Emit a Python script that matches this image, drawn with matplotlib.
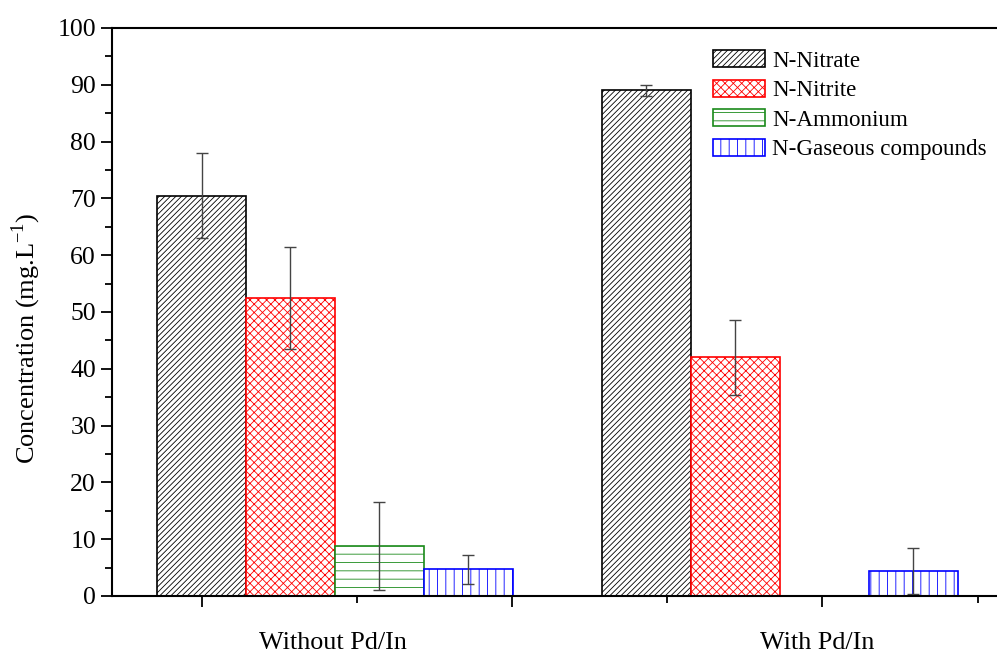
import numpy as np
import matplotlib.pyplot as plt

plt.rcParams['font.family'] = ['Liberation Serif', 'DejaVu Serif']
plt.rcParams['mathtext.fontset'] = 'custom'
plt.rcParams['mathtext.rm'] = 'Liberation Serif'
plt.rcParams['hatch.linewidth'] = 0.6

groups = ['Without Pd/In', 'With Pd/In']
species = ['N-Nitrate', 'N-Nitrite', 'N-Ammonium', 'N-Gaseous compounds']
nitrate = [70.5, 89.0]
nitrate_err = [7.5, 0.9]
nitrite = [52.5, 42.0]
nitrite_err = [9.0, 6.6]
ammonium = [8.8, 0.0]
ammonium_err = [7.7, np.nan]
gaseous = [4.7, 4.4]
gaseous_err = [2.6, 4.0]

values = [nitrate, nitrite, ammonium, gaseous]
errors = [nitrate_err, nitrite_err, ammonium_err, gaseous_err]
edges = ['black', '#ff0000', '#1a8a1a', '#0000ff']
hatches = ['//////', 'xxxx', '--', '||']

fig = plt.figure(figsize=(9.97, 6.57), dpi=100)
ax = fig.add_axes([112 / 997, 61 / 657, 885 / 997, 568 / 657])

group_start = np.array([0.0, 5.0])
for i in range(4):
    ax.bar(group_start + i, values[i], width=1.0, color='white',
           edgecolor=edges[i], hatch=hatches[i], linewidth=1.2,
           label=species[i])
    ax.errorbar(group_start + i, values[i], yerr=errors[i], fmt='none',
                ecolor='#444444', elinewidth=1, capsize=4, capthick=1)

ax.set_ylim(0, 100)
ax.set_xlim(-1.006, 8.94)
ax.set_yticks(np.arange(0, 101, 10))
ax.set_yticks(np.arange(0, 101, 5), minor=True)
step = 155.25 / 89
ax.set_xticks([0, 2 * step, 4 * step])
ax.set_xticks([step, 3 * step, 5 * step], minor=True)
ax.set_xticklabels([])
ax.tick_params(which='major', direction='out', length=8, width=1.3, labelsize=18.5)
ax.tick_params(which='minor', direction='out', length=5, width=1.3)

# group labels sit under the bars, not on the tick marks
label_x = [1.48, 6.92]
for x, g in zip(label_x, groups):
    ax.text(x, -0.083, g, transform=ax.get_xaxis_transform(), ha='center',
            va='center', fontsize=18.8)

ax.set_ylabel('Concentration (mg.L$^{\\mathregular{-1}}$)', fontsize=19)
ax.yaxis.set_label_coords(-0.078, 0.454)

ax.spines['right'].set_visible(False)
for s in ['left', 'top', 'bottom']:
    ax.spines[s].set_linewidth(1.5)

ax.legend(loc='upper right', bbox_to_anchor=(0.9887, 0.9613), frameon=False,
          fontsize=16.6, handlelength=2.26, handleheight=0.78, labelspacing=0.34,
          handletextpad=0.3, borderaxespad=0, borderpad=0)

fig.savefig('out.png', dpi=100)
